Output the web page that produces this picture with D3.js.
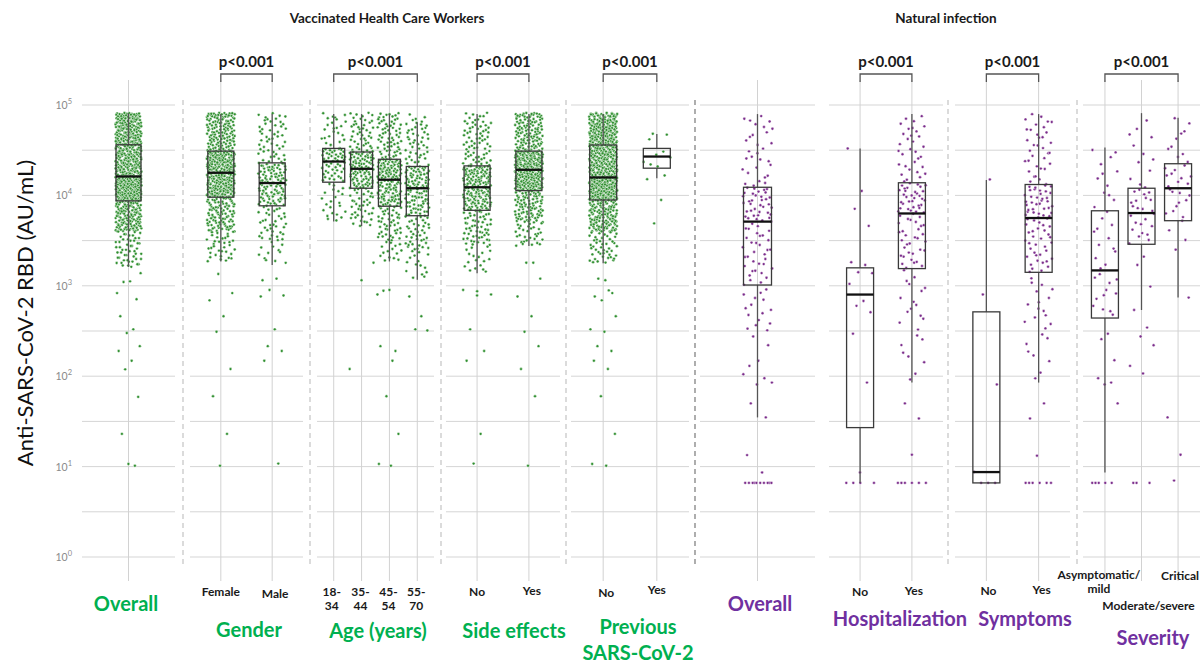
<!DOCTYPE html>
<html><head><meta charset="utf-8">
<script src="https://cdn.jsdelivr.net/npm/d3@7"></script>
<style>
body{margin:0;background:#fff}
svg{display:block}
text{font-family:Lato,"Open Sans",sans-serif}
</style>
</head><body>
<svg id="c" width="1202" height="666"></svg>
<script>
// ---------------- DATA (values in AU/mL) ----------------
const yTickExponents = [0,1,2,3,4,5];
const groupTitles = ["Vaccinated Health Care Workers", "Natural infection"];
const pLabel = "p<0.001";

// categories
const vacOverallCats = ["Overall"];
const genderCats = ["Female","Male"];
const ageCats = ["18-34","35-44","45-54","55-70"];
const sideCats = ["No","Yes"];
const prevCats = ["No","Yes"];
const natOverallCats = ["Overall"];
const hospCats = ["No","Yes"];
const sympCats = ["No","Yes"];
const sevCats = ["Asymptomatic/mild","Moderate/severe","Critical"];

// tick labels (lines)
const genderTicks = [["Female"],["Male"]];
const ageTicks = [["18-","34"],["35-","44"],["45-","54"],["55-","70"]];
const sideTicks = [["No"],["Yes"]];
const prevTicks = [["No"],["Yes"]];
const hospTicks = [["No"],["Yes"]];
const sympTicks = [["No"],["Yes"]];
const sevTicks = [["Asymptomatic/","mild"],["Moderate/severe"],["Critical"]];

// panel titles
const vacPanelTitles = [["Overall"],["Gender"],["Age (years)"],["Side effects"],["Previous","SARS-CoV-2"]];
const natPanelTitles = [["Overall"],["Hospitalization"],["Symptoms"],["Severity"]];

// box statistics: [lower whisker, Q1, median, Q3, upper whisker]
const vacOverallBoxes = [[1620, 8700, 16200, 36300, 81300]];
const genderBoxes = [[1860, 9550, 17800, 30900, 79400],[1700, 7670, 13700, 22900, 79400]];
const ageBoxes = [[5130, 14000, 23700, 33100, 79400],[4570, 12000, 19700, 30200, 79400],
                  [1860, 7590, 14900, 25100, 79400],[1170, 5960, 12000, 20900, 64600]];
const sideBoxes = [[1380, 6840, 12300, 21200, 79400],[2750, 11300, 19200, 30900, 79400]];
const prevBoxes = [[1780, 8900, 15800, 36100, 79400],[15500, 20000, 26900, 33100, 47900]];
const natOverallBoxes = [[35, 1020, 5130, 12300, 79400]];
const hospBoxes = [[6.6, 27, 800, 1580, 33100],[85, 1550, 6310, 13800, 79400]];
const sympBoxes = [[6.6, 6.6, 8.7, 515, 14800],[85, 1410, 5620, 13200, 79400]];
const sevBoxes = [[8.6, 440, 1480, 6760, 33900],[540, 2880, 6380, 12000, 81300],[740, 5250, 12000, 22400, 72400]];

// dense point clouds, read as counts per value band: [from, to, count]
const vacOverallBins = [[[72000,82000,30],[36300,72000,165],[16200,36300,190],[8700,16200,190],[3980,8700,125],[1620,3980,50]]];
const genderBins = [
  [[72000,82000,25],[30900,72000,110],[17800,30900,135],[9550,17800,135],[3980,9550,95],[1860,3980,35]],
  [[72000,82000,5],[22900,72000,45],[13700,22900,50],[7670,13700,50],[3160,7670,35],[1700,3160,12]]];
const ageBins = [
  [[72000,82000,4],[33100,72000,21],[23700,33100,25],[14000,23700,25],[5130,14000,22]],
  [[72000,82000,6],[30200,72000,39],[19700,30200,45],[12000,19700,45],[4570,12000,40]],
  [[72000,82000,8],[25100,72000,57],[14900,25100,65],[7590,14900,65],[3160,7590,45],[1860,3160,15]],
  [[64600,80000,5],[20900,64600,42],[12000,20900,50],[5960,12000,50],[2510,5960,40],[1170,2510,15]]];
const sideBins = [
  [[72000,82000,6],[21200,70800,65],[12300,21200,75],[6840,12300,75],[2820,6840,55],[1380,2820,18]],
  [[72000,82000,20],[30900,70800,100],[19200,30900,120],[11300,19200,120],[5010,11300,88],[2750,5010,30]]];
const prevBins = [
  [[72000,82000,30],[36100,70800,160],[15800,36100,185],[8900,15800,185],[3980,8900,125],[1780,3980,45]],
  []];
const natOverallBins = [[[12300,79400,30],[5130,12300,35],[1020,5130,35],[316,1020,15]]];
const hospBins = [[],[[13800,79400,32],[6310,13800,33],[1550,6310,33],[316,1550,15],[85,316,8]]];
const sympBins = [[],[[13200,79400,35],[5620,13200,35],[1410,5620,35],[316,1410,15],[85,316,8]]];
const sevBins = [[[6760,34700,12],[1480,6760,12],[440,1480,12]],
                 [[12000,81300,12],[6380,12000,12],[2880,6380,12]],
                 [[22400,72400,10],[12000,22400,10],[5250,12000,10],[2510,5250,4]]];

// individually read points
const vacOverallPts = [[1380,830,1120,1100,710,460,330,300,215,190,148,119,59,23,10.2,10.7]];
const genderPts = [[1350,830,690,460,310,120,60,23,10.2],[1150,1200,900,780,760,330,215,190,148,10.8]];
const agePts = [[],[1150,1800,120],[800,900,880,190,215,148,60,23,10.7,10.2],[760,460,330,320]];
const sidePts = [[780,800,900,870,330,190,148,23,10.8],[1800,1800,1200,760,460,310,215,120,60,10.2]];
const prevPts = [[1150,1200,830,760,890,690,460,330,310,215,190,148,120,60,23,10.7,10.2],
                 [48000,47000,41700,30500,28200,26300,23400,20900,22000,16600,15100,8900,4900]];
const natOverallPts = [[275,220,130,95,81,85,105,148,50,35,13.4,8.6,6.6,6.6,6.6,6.6,6.6,6.6,6.6,6.6,6.6,6.6]];
const hospPts = [[33000,11200,7100,4600,1820,1700,1410,1380,1050,680,600,510,295,85,8.6,6.6,6.6,6.6,6.6],
                 [50,34,13.5,6.6,6.6,6.6,6.6,6.6,6.6]];
const sympPts = [[15000,800,81,8.7,6.6,6.6,6.6],[34,50,13.2,6.6,6.6,6.6,6.6,6.6,6.6]];
const sevPts = [[295,257,150,95,85,81,50,6.6,6.6,6.6,6.6,6.6],
                [2100,1700,980,540,345,275,220,130,107,6.6,6.6,6.6],
                [740,35,13.5,7]];

// ---------------- LAYOUT ----------------
const C = {green:"#00B050", purple:"#7030A0", gPt:"#2f8f2f", pPt:"#7b2c8b"};
const panels = [
 {cats:vacOverallCats, ticks:null, boxes:vacOverallBoxes, bins:vacOverallBins, pts:vacOverallPts, range:[82,175], vac:true, boxW:25, jit:13, title:vacPanelTitles[0], tx:126, ty:[611], br:false},
 {cats:genderCats, ticks:genderTicks, boxes:genderBoxes, bins:genderBins, pts:genderPts, range:[190,303], vac:true, boxW:26, jit:14, title:vacPanelTitles[1], tx:249, ty:[637], br:true, tk:[[0,596],[3,598]]},
 {cats:ageCats, ticks:ageTicks, boxes:ageBoxes, bins:ageBins, pts:agePts, range:[317,434], vac:true, boxW:22, jit:12, title:vacPanelTitles[2], tx:378, ty:[638], br:true, tk:[[-2,596],[-1,596],[-1,596],[-1,596]]},
 {cats:sideCats, ticks:sideTicks, boxes:sideBoxes, bins:sideBins, pts:sidePts, range:[446,560], vac:true, boxW:26, jit:14, title:vacPanelTitles[3], tx:514, ty:[638], br:true, tk:[[0,596],[3,595]]},
 {cats:prevCats, ticks:prevTicks, boxes:prevBoxes, bins:prevBins, pts:prevPts, range:[571,689], vac:true, boxW:27, jit:14, title:vacPanelTitles[4], tx:638, ty:[634,660], br:true, tk:[[3,597],[0,594]]},
 {cats:natOverallCats, ticks:null, boxes:natOverallBoxes, bins:natOverallBins, pts:natOverallPts, range:[700,815], vac:false, boxW:28, jit:15, title:natPanelTitles[0], tx:760, ty:[611], br:false},
 {cats:hospCats, ticks:hospTicks, boxes:hospBoxes, bins:hospBins, pts:hospPts, range:[829,943], vac:false, boxW:27, jit:14, title:natPanelTitles[1], tx:900, ty:[626], br:true, tk:[[0,596],[2,595]]},
 {cats:sympCats, ticks:sympTicks, boxes:sympBoxes, bins:sympBins, pts:sympPts, range:[955,1070], vac:false, boxW:27, jit:14, title:natPanelTitles[2], tx:1025, ty:[626], br:true, tk:[[2,595],[3,594]]},
 {cats:sevCats, ticks:sevTicks, boxes:sevBoxes, bins:sevBins, pts:sevPts, range:[1083,1200], vac:false, boxW:27, jit:13, title:natPanelTitles[3], tx:1153, ty:[645], br:true, tk:[[-6,579],[7,610],[2,580]]}
];

const svg = d3.select("#c");
const y = d3.scaleLog().domain([1,1e5]).range([557,105]);
const gGrid = svg.append("g"), gSep = svg.append("g"), gPts = svg.append("g"), gBox = svg.append("g"), gTxt = svg.append("g");

function halton(i,b){let f=1,r=0;while(i>0){f/=b;r+=f*(i%b);i=Math.floor(i/b);}return r;}
let counter = 0;

const majors = yTickExponents.map(e=>Math.pow(10,e));
const minors = yTickExponents.slice(0,-1).map(e=>Math.pow(10,e+0.5));

panels.forEach(p=>{
  const x = d3.scalePoint().domain(p.cats).range(p.range).padding(0.6);
  // horizontal grid
  gGrid.selectAll(null).data(minors.concat(majors)).enter().append("line")
    .attr("x1",p.range[0]).attr("x2",p.range[1])
    .attr("y1",d=>y(d)).attr("y2",d=>y(d))
    .attr("stroke","#d5d5d5").attr("stroke-width",1);
  // vertical grid
  gGrid.selectAll(null).data(p.cats).enter().append("line")
    .attr("x1",d=>x(d)).attr("x2",d=>x(d)).attr("y1",80).attr("y2",581)
    .attr("stroke","#d2d2d2").attr("stroke-width",1);

  p.cats.forEach((c,i)=>{
    const cx = x(c);
    const vals = [];
    p.bins[i].forEach(([lo,hi,n])=>{
      const l0=Math.log10(lo), l1=Math.log10(hi);
      for(let k=0;k<n;k++){counter++; vals.push({v:Math.pow(10,l0+(l1-l0)*halton(counter,3)), u:halton(counter,2)});}
    });
    p.pts[i].forEach(v=>{counter++; vals.push({v, u:halton(counter,2)});});
    gPts.selectAll(null).data(vals).enter().append("circle")
      .attr("cx",d=>cx+(d.u-0.5)*2*p.jit).attr("cy",d=>y(d.v)).attr("r",1.45)
      .attr("fill",p.vac?C.gPt:C.pPt).attr("stroke","#fff").attr("stroke-width",0.45);

    const [wl,q1,md,q3,wh] = p.boxes[i];
    const bg = gBox.append("g");
    bg.append("line").attr("x1",cx).attr("x2",cx).attr("y1",y(q3)).attr("y2",y(wh)).attr("stroke","#555").attr("stroke-width",1.3);
    bg.append("line").attr("x1",cx).attr("x2",cx).attr("y1",y(q1)).attr("y2",y(wl)).attr("stroke","#555").attr("stroke-width",1.3);
    bg.append("rect").attr("x",cx-p.boxW/2).attr("width",p.boxW).attr("y",y(q3)).attr("height",y(q1)-y(q3))
      .attr("fill","none").attr("stroke","#3a3a3a").attr("stroke-width",1.3);
    bg.append("line").attr("x1",cx-p.boxW/2).attr("x2",cx+p.boxW/2).attr("y1",y(md)).attr("y2",y(md)).attr("stroke","#111").attr("stroke-width",2.3);

    if(p.ticks){
      const [dx,y0] = p.tk[i];
      const t = gTxt.append("text").attr("x",cx+dx).attr("y",y0).attr("text-anchor","middle")
        .attr("font-size",12).attr("font-weight","bold").attr("fill","#1a1a1a");
      p.ticks[i].forEach((ln,j)=>t.append("tspan").attr("x",cx+dx).attr("y",y0+j*14).text(ln));
    }
  });

  // bracket + p-value
  if(p.br){
    const xa = x(p.cats[0]), xb = x(p.cats[p.cats.length-1]);
    gTxt.append("path").attr("d",`M${xa},82V74H${xb}V82`).attr("fill","none").attr("stroke","#555").attr("stroke-width",1.3);
    gTxt.append("text").attr("x",(xa+xb)/2).attr("y",67).attr("text-anchor","middle")
      .attr("font-size",15).attr("font-weight","bold").attr("fill","#1a1a1a").text(pLabel);
  }
  // panel title
  p.title.forEach((ln,j)=>{
    gTxt.append("text").attr("x",p.tx).attr("y",p.ty[j]).attr("text-anchor","middle")
      .attr("font-size",20).attr("font-weight","bold").attr("fill",p.vac?C.green:C.purple).text(ln);
  });
});

// separators
const lightSeps = [183,310,441,566,948,1077];
gSep.selectAll(null).data(lightSeps).enter().append("line")
  .attr("x1",d=>d).attr("x2",d=>d).attr("y1",100).attr("y2",565)
  .attr("stroke","#c4c4c4").attr("stroke-width",1.2).attr("stroke-dasharray","5,4");
gSep.append("line").attr("x1",695).attr("x2",695).attr("y1",100).attr("y2",567)
  .attr("stroke","#8c8c8c").attr("stroke-width",1.4).attr("stroke-dasharray","5,4");

// y tick labels
yTickExponents.forEach(e=>{
  const t = gTxt.append("text").attr("x",72).attr("y",y(Math.pow(10,e))+4).attr("text-anchor","end")
    .attr("font-size",10.5).attr("fill","#8a8a8a");
  t.append("tspan").text("10");
  t.append("tspan").attr("dy",-5).attr("font-size",7.5).text(e);
});

// axis title
gTxt.append("text").attr("transform","translate(33,313) rotate(-90)").attr("text-anchor","middle")
  .attr("font-size",22).attr("fill","#111").text("Anti-SARS-CoV-2 RBD (AU/mL)");

// group titles
gTxt.append("text").attr("x",387).attr("y",23).attr("text-anchor","middle").attr("font-size",13.5)
  .attr("font-weight","bold").attr("fill","#1a1a1a").text(groupTitles[0]);
gTxt.append("text").attr("x",946).attr("y",23).attr("text-anchor","middle").attr("font-size",13.5)
  .attr("font-weight","bold").attr("fill","#1a1a1a").text(groupTitles[1]);
</script>
</body></html>
